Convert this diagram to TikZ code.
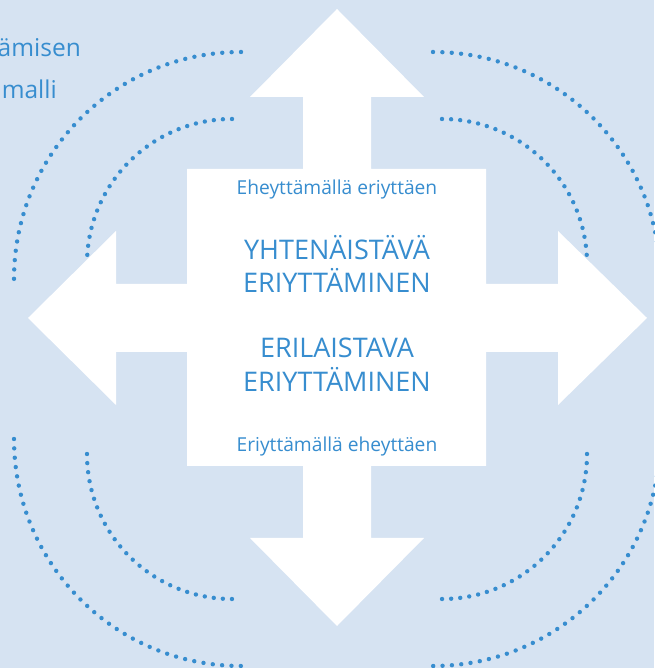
\documentclass[tikz,border=0pt]{standalone}
\usepackage[HTML]{xcolor}
\usepackage{fontspec}
\setmainfont{Open Sans}
\usepackage{tikz}
\usetikzlibrary{positioning, arrows.meta}

\definecolor{bgblue}{HTML}{D6E3F2}
\definecolor{midblue}{HTML}{378DCF}

\begin{document}
\begin{tikzpicture}[x=1pt, y=1pt,
    dotarc/.style={midblue, line width=4.4pt, line cap=round},
    outerdots/.style={dotarc, dash pattern=on 0pt off 9.38pt},
    innerdots/.style={dotarc, dash pattern=on 0pt off 9.11pt},
    bigtxt/.style={text=midblue, font=\fontsize{27}{33}\selectfont, anchor=base, inner sep=0pt},
    smalltxt/.style={text=midblue, font=\fontsize{19.2}{22}\selectfont, anchor=base, inner sep=0pt},
    titletxt/.style={text=midblue, font=\fontsize{24.5}{30}\selectfont, anchor=base east, inner sep=0pt}]

    % 1. Background
    \useasboundingbox (0,0) rectangle (654,668);
    \fill[bgblue] (0,0) rectangle (654,668);

    % 2. Dotted arcs, outer and inner, one pair per corner
    \draw[outerdots] (241,389) ++(90:227pt) arc[start angle=90, end angle=180, radius=227pt];
    \draw[innerdots] (232,404) ++(90:145pt) arc[start angle=90, end angle=180, radius=145pt];
    \draw[outerdots] (433,389) ++(90:227pt) arc[start angle=90, end angle=0, radius=227pt];
    \draw[innerdots] (442,404) ++(90:145pt) arc[start angle=90, end angle=0, radius=145pt];
    \draw[outerdots] (241,229) ++(180:227pt) arc[start angle=180, end angle=270, radius=227pt];
    \draw[innerdots] (232,214) ++(180:145pt) arc[start angle=180, end angle=270, radius=145pt];
    \draw[outerdots] (433,229) ++(0:227pt) arc[start angle=0, end angle=-90, radius=227pt];
    \draw[innerdots] (442,214) ++(0:145pt) arc[start angle=0, end angle=-90, radius=145pt];

    % 3. White four-way arrow
    \fill[white] (337,659) -- (424,571) -- (371,571) -- (371,499) -- (486,499)
        -- (486,384) -- (558,384) -- (558,437) -- (647,350) -- (558,263)
        -- (558,316) -- (486,316) -- (486,202) -- (371,202) -- (371,130)
        -- (424,130) -- (337,42) -- (250,130) -- (303,130) -- (303,202)
        -- (187,202) -- (187,316) -- (116,316) -- (116,263) -- (28,350)
        -- (116,437) -- (116,384) -- (187,384) -- (187,499) -- (303,499)
        -- (303,571) -- (250,571) -- cycle;

    % 4. Texts in the middle
    \node[smalltxt] (ehey) at (337,473) {Eheyttämällä eriyttäen};
    \node[bigtxt] (yht) at (337,408) {YHTENÄISTÄVÄ};
    \node[bigtxt] (yhtE) at (337,375) {ERIYTTÄMINEN};
    \node[bigtxt] (eril) at (337,310) {ERILAISTAVA};
    \node[bigtxt] (erilE) at (337,276) {ERIYTTÄMINEN};
    \node[smalltxt] (eriy) at (337,216) {Eriyttämällä eheyttäen};

    % 5. Title, cut at the left edge
    \node[titletxt] (title1) at (81,611) {ämisen};
    \node[titletxt] (title2) at (57,569) {malli};
\end{tikzpicture}
\end{document}
